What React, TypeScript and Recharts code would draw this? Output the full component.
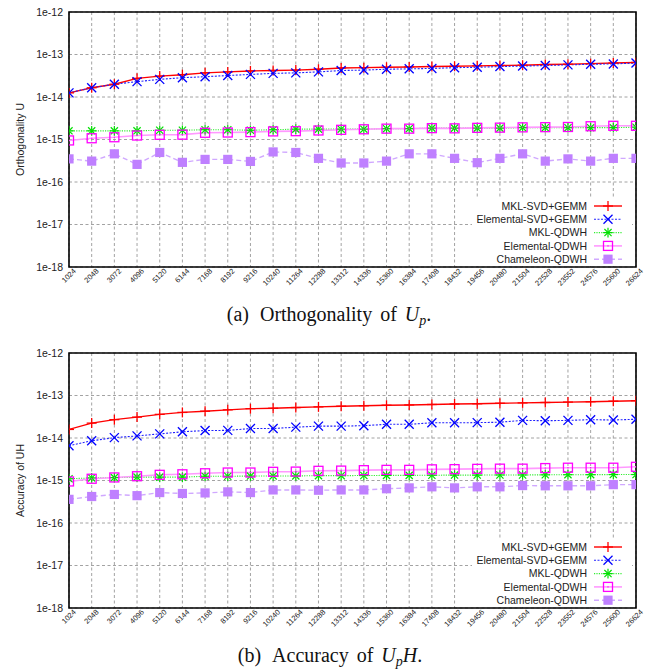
import React from 'react';
import { LineChart, Line, XAxis, YAxis, CartesianGrid, ReferenceArea } from 'recharts';

// ---------- data ----------
const N = [1024, 2048, 3072, 4096, 5120, 6144, 7168, 8192, 9216, 10240, 11264, 12288, 13312,
  14336, 15360, 16384, 17408, 18432, 19456, 20480, 21504, 22528, 23552, 24576, 25600, 26624];
const Y_TICKS = [1e-18, 1e-17, 1e-16, 1e-15, 1e-14, 1e-13, 1e-12];
const SERIES_NAMES = ['MKL-SVD+GEMM', 'Elemental-SVD+GEMM', 'MKL-QDWH', 'Elemental-QDWH', 'Chameleon-QDWH'];

// (a) Orthogonality of Up
const A_MKL_SVD = [1.25e-14, 1.65e-14, 2.0e-14, 2.75e-14, 3.1e-14, 3.35e-14, 3.7e-14, 3.9e-14, 4.1e-14, 4.2e-14, 4.3e-14, 4.5e-14, 4.8e-14,
  4.9e-14, 5.0e-14, 5.1e-14, 5.2e-14, 5.3e-14, 5.4e-14, 5.5e-14, 5.6e-14, 5.8e-14, 5.9e-14, 6.1e-14, 6.3e-14, 6.5e-14];
const A_EL_SVD = [1.25e-14, 1.65e-14, 2.0e-14, 2.3e-14, 2.6e-14, 2.85e-14, 3.0e-14, 3.2e-14, 3.4e-14, 3.6e-14, 3.7e-14, 3.9e-14, 4.2e-14,
  4.3e-14, 4.5e-14, 4.6e-14, 4.7e-14, 4.9e-14, 5.0e-14, 5.2e-14, 5.35e-14, 5.5e-14, 5.7e-14, 5.9e-14, 6.0e-14, 6.3e-14];
const A_MKL_QDWH = [1.6e-15, 1.6e-15, 1.6e-15, 1.6e-15, 1.65e-15, 1.65e-15, 1.7e-15, 1.7e-15, 1.65e-15, 1.7e-15, 1.75e-15, 1.75e-15, 1.75e-15,
  1.75e-15, 1.8e-15, 1.8e-15, 1.85e-15, 1.85e-15, 1.85e-15, 1.85e-15, 1.9e-15, 1.9e-15, 1.9e-15, 1.9e-15, 1.9e-15, 1.95e-15];
const A_EL_QDWH = [0.95e-15, 1.07e-15, 1.13e-15, 1.24e-15, 1.29e-15, 1.3e-15, 1.44e-15, 1.46e-15, 1.49e-15, 1.55e-15, 1.57e-15, 1.63e-15, 1.69e-15,
  1.74e-15, 1.8e-15, 1.8e-15, 1.85e-15, 1.83e-15, 1.88e-15, 1.9e-15, 1.93e-15, 1.95e-15, 1.97e-15, 2.05e-15, 2.1e-15, 2.1e-15];
const A_CHAM = [3.5e-16, 3.1e-16, 4.6e-16, 2.6e-16, 4.95e-16, 2.9e-16, 3.4e-16, 3.4e-16, 3.05e-16, 5.1e-16, 4.95e-16, 3.6e-16, 2.8e-16,
  2.8e-16, 3.1e-16, 4.6e-16, 4.6e-16, 3.6e-16, 2.85e-16, 3.6e-16, 4.6e-16, 3.1e-16, 3.5e-16, 3.1e-16, 3.6e-16, 3.6e-16];

// (b) Accuracy of UpH
const B_MKL_SVD = [1.59e-14, 2.24e-14, 2.7e-14, 3.1e-14, 3.6e-14, 4.0e-14, 4.27e-14, 4.6e-14, 4.9e-14, 5.0e-14, 5.2e-14, 5.4e-14, 5.6e-14,
  5.75e-14, 5.9e-14, 6.0e-14, 6.15e-14, 6.3e-14, 6.4e-14, 6.55e-14, 6.7e-14, 6.85e-14, 7.0e-14, 7.15e-14, 7.35e-14, 7.55e-14];
const B_EL_SVD = [6.6e-15, 8.6e-15, 1.02e-14, 1.12e-14, 1.25e-14, 1.4e-14, 1.5e-14, 1.51e-14, 1.67e-14, 1.67e-14, 1.8e-14, 1.9e-14, 1.9e-14,
  1.95e-14, 2.1e-14, 2.1e-14, 2.28e-14, 2.28e-14, 2.3e-14, 2.35e-14, 2.6e-14, 2.55e-14, 2.6e-14, 2.7e-14, 2.65e-14, 2.76e-14];
const B_MKL_QDWH = [1.1e-15, 1.15e-15, 1.17e-15, 1.2e-15, 1.2e-15, 1.2e-15, 1.26e-15, 1.26e-15, 1.27e-15, 1.28e-15, 1.28e-15, 1.3e-15, 1.3e-15,
  1.31e-15, 1.32e-15, 1.32e-15, 1.33e-15, 1.34e-15, 1.34e-15, 1.35e-15, 1.35e-15, 1.36e-15, 1.37e-15, 1.37e-15, 1.38e-15, 1.38e-15];
const B_EL_QDWH = [0.95e-15, 1.1e-15, 1.18e-15, 1.26e-15, 1.36e-15, 1.4e-15, 1.48e-15, 1.54e-15, 1.54e-15, 1.6e-15, 1.62e-15, 1.69e-15, 1.71e-15,
  1.75e-15, 1.78e-15, 1.78e-15, 1.83e-15, 1.85e-15, 1.88e-15, 1.9e-15, 1.9e-15, 1.96e-15, 2.0e-15, 2.0e-15, 2.0e-15, 2.1e-15];
const B_CHAM = [3.6e-16, 4.2e-16, 4.7e-16, 4.4e-16, 5.2e-16, 4.95e-16, 5.1e-16, 5.4e-16, 5.2e-16, 6.0e-16, 6.0e-16, 5.9e-16, 6.0e-16,
  6.0e-16, 6.4e-16, 6.7e-16, 7.1e-16, 6.7e-16, 7.1e-16, 7.1e-16, 7.6e-16, 7.5e-16, 7.5e-16, 7.5e-16, 8.0e-16, 8.0e-16];

const KEYS = ['mklSvd', 'elSvd', 'mklQdwh', 'elQdwh', 'cham'];

function buildRows(cols: number[][]) {
  return N.map((n, i) => {
    const r: any = { n };
    KEYS.forEach((k, j) => { r[k] = cols[j][i]; });
    return r;
  });
}
const DATA_A = buildRows([A_MKL_SVD, A_EL_SVD, A_MKL_QDWH, A_EL_QDWH, A_CHAM]);
const DATA_B = buildRows([B_MKL_SVD, B_EL_SVD, B_MKL_QDWH, B_EL_QDWH, B_CHAM]);

// ---------- styles ----------
const STYLES = [
  { marker: 'plus', color: '#ff0000', line: '#ff0000', dash: undefined as any, width: 1.4 },
  { marker: 'cross', color: '#0000ff', line: '#2020ff', dash: '2 1.5', width: 1.1 },
  { marker: 'star', color: '#00e000', line: '#33ee33', dash: '1.2 1.2', width: 1.1 },
  { marker: 'osq', color: '#ff00ff', line: '#ff99ff', dash: undefined as any, width: 1.6 },
  { marker: 'fsq', color: '#bf80ff', line: '#d0a8ff', dash: '5 3', width: 1.4 },
];

const SANS = '"Liberation Sans", Arial, Helvetica, sans-serif';

function Marker({ kind, color, cx, cy }: any) {
  if (cx == null || cy == null || isNaN(cx) || isNaN(cy)) return null;
  const s = 5;
  if (kind === 'plus') {
    return (
      <g stroke={color} strokeWidth={1.3}>
        <line x1={cx - s} y1={cy} x2={cx + s} y2={cy} />
        <line x1={cx} y1={cy - s} x2={cx} y2={cy + s} />
      </g>
    );
  }
  if (kind === 'cross') {
    const d = 4.5;
    return (
      <g stroke={color} strokeWidth={1.3}>
        <line x1={cx - d} y1={cy - d} x2={cx + d} y2={cy + d} />
        <line x1={cx - d} y1={cy + d} x2={cx + d} y2={cy - d} />
      </g>
    );
  }
  if (kind === 'star') {
    const d = 3.6;
    return (
      <g stroke={color} strokeWidth={1.2}>
        <line x1={cx - 4.8} y1={cy} x2={cx + 4.8} y2={cy} />
        <line x1={cx} y1={cy - 4.8} x2={cx} y2={cy + 4.8} />
        <line x1={cx - d} y1={cy - d} x2={cx + d} y2={cy + d} />
        <line x1={cx - d} y1={cy + d} x2={cx + d} y2={cy - d} />
      </g>
    );
  }
  if (kind === 'osq') {
    return (
      <g>
        <rect x={cx - 4.5} y={cy - 4.5} width={9} height={9} fill="none" stroke={color} strokeWidth={1.3} />
        <rect x={cx - 0.6} y={cy - 0.6} width={1.2} height={1.2} fill={color} />
      </g>
    );
  }
  return <rect x={cx - 4.6} y={cy - 4.6} width={9.2} height={9.2} fill={color} />;
}

function XTick(props: any) {
  const { x, y, payload } = props;
  const px = x + 7.5;
  const py = y + 4.5;
  return (
    <text x={px} y={py} textAnchor="end" fontSize={7.5} fontFamily={SANS} fill="#222"
      transform={`rotate(-45 ${px} ${py})`}>
      {String(payload.value)}
    </text>
  );
}

function YTick(props: any) {
  const { x, y, payload } = props;
  const e = Math.round(Math.log10(payload.value));
  return (
    <text x={x} y={y} dy="0.36em" textAnchor="end" fontSize={10.5} fontFamily={SANS} fill="#222">
      {`1e${e}`}
    </text>
  );
}

function YLabel(props: any) {
  const vb = props.viewBox || { x: 0, y: 12, width: 69, height: 255 };
  const cx = 20;
  const cy = vb.y + vb.height / 2;
  return (
    <text x={cx} y={cy} textAnchor="middle" dominantBaseline="central" fontSize={10.5} fontFamily={SANS} fill="#222"
      transform={`rotate(-90 ${cx} ${cy})`}>
      {props.text}
    </text>
  );
}

function LegendOverlay() {
  const rows = SERIES_NAMES.map((name, i) => ({ name, st: STYLES[i], y: 206 + i * 13.3 }));
  return (
    <svg width={662} height={300} style={{ position: 'absolute', left: 0, top: 0, pointerEvents: 'none' }}>
      <rect x={472} y={199} width={160} height={67} fill="#ffffff" />
      {rows.map((r, i) => (
        <g key={i}>
          <text x={587} y={r.y} dy="0.36em" textAnchor="end" fontSize={10.5} fontFamily={SANS} fill="#222">{r.name}</text>
          <line x1={594} y1={r.y} x2={622} y2={r.y} stroke={r.st.line} strokeWidth={r.st.width} strokeDasharray={r.st.dash} />
          <Marker kind={r.st.marker} color={r.st.color} cx={608} cy={r.y} />
        </g>
      ))}
    </svg>
  );
}

function Panel({ top, data, yLabel }: any) {
  return (
    <div style={{ position: 'absolute', left: 0, top, width: 662, height: 300 }}>
      <LineChart width={662} height={300} data={data} margin={{ top: 12, right: 26, bottom: 5, left: 0 }}>
        <CartesianGrid stroke="#8c8c8c" strokeDasharray="3 2.5" strokeWidth={0.8} />
        <XAxis dataKey="n" type="number" domain={[1024, 26624]} ticks={N} interval={0} allowDataOverflow
          tick={<XTick />} tickLine={false} axisLine={false} height={28} tickSize={0} tickMargin={0} />
        <YAxis type="number" scale="log" domain={[1e-18, 1e-12]} ticks={Y_TICKS} interval={0} allowDataOverflow
          tick={<YTick />} tickLine={false} axisLine={false} width={69} tickSize={0} tickMargin={6}
          label={<YLabel text={yLabel} />} />
        <ReferenceArea x1={1024} x2={26624} y1={1e-18} y2={1e-12} fill="none" fillOpacity={0}
          stroke="#000" strokeWidth={1.6} ifOverflow="visible" />
        {KEYS.map((k, i) => {
          const st = STYLES[i];
          return (
            <Line key={k} dataKey={k} name={SERIES_NAMES[i]} type="linear" stroke={st.line} strokeWidth={st.width}
              strokeDasharray={st.dash} isAnimationActive={false}
              dot={(p: any) => <Marker key={`${k}-${p.index}`} kind={st.marker} color={st.color} cx={p.cx} cy={p.cy} />}
              activeDot={false} />
          );
        })}
      </LineChart>
      <LegendOverlay />
    </div>
  );
}

const SERIF = '"Liberation Serif", "Times New Roman", Times, serif';

export default function App() {
  return (
    <div style={{ position: 'absolute', left: 0, top: 0, width: 662, height: 671, background: '#fff', overflow: 'hidden' }}>
      <Panel top={0} data={DATA_A} yLabel="Orthogonality U" />
      <Panel top={341} data={DATA_B} yLabel="Accuracy of UH" />
      <svg width={662} height={671} style={{ position: 'absolute', left: 0, top: 0, pointerEvents: 'none' }}>
        <text x={329} y={321} textAnchor="middle" fontSize={20} fontFamily={SERIF} fill="#111" wordSpacing={3}>
          <tspan>(a)</tspan>
          <tspan dx={11}>Orthogonality of </tspan>
          <tspan fontStyle="italic">U</tspan>
          <tspan fontStyle="italic" fontSize={14} dy={4}>p</tspan>
          <tspan dy={-4}>.</tspan>
        </text>
        <text x={330} y={662} textAnchor="middle" fontSize={20} fontFamily={SERIF} fill="#111" wordSpacing={3}>
          <tspan>(b)</tspan>
          <tspan dx={11}>Accuracy of </tspan>
          <tspan fontStyle="italic">U</tspan>
          <tspan fontStyle="italic" fontSize={14} dy={4}>p</tspan>
          <tspan dy={-4} fontStyle="italic">H</tspan>
          <tspan>.</tspan>
        </text>
      </svg>
    </div>
  );
}
